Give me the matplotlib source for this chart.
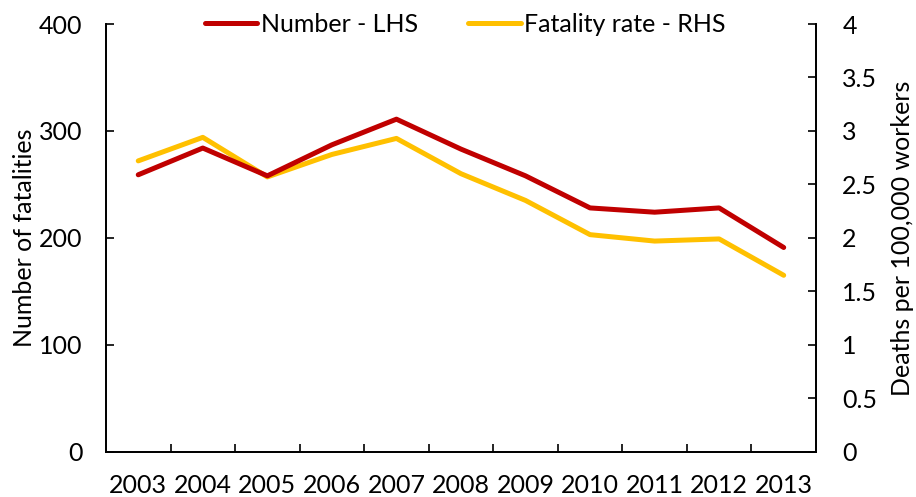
import matplotlib.pyplot as plt

# Data
years = ['2003', '2004', '2005', '2006', '2007', '2008', '2009', '2010', '2011', '2012', '2013']
fatalities = [259, 284, 258, 287, 311, 283, 258, 228, 224, 228, 191]
fatality_rate = [2.72, 2.94, 2.57, 2.78, 2.93, 2.60, 2.35, 2.03, 1.97, 1.99, 1.65]

plt.rcParams['font.family'] = ['Lato', 'DejaVu Sans']
plt.rcParams['font.size'] = 18

fig = plt.figure(figsize=(9.16, 4.97), dpi=100)
ax = fig.add_axes([0.1157, 0.0911, 0.7751, 0.8606])
ax2 = ax.twinx()

x = list(range(len(years)))
l1, = ax.plot(x, fatalities, color='#C00000', lw=3.6, solid_capstyle='round',
              label='Number - LHS')
l2, = ax2.plot(x, fatality_rate, color='#FFC000', lw=3.6, solid_capstyle='round',
               label='Fatality rate - RHS')
ax.set_zorder(ax2.get_zorder() + 1)
ax.patch.set_visible(False)

ax.set_xlim(-0.5, len(years) - 0.5)
ax.set_ylim(0, 400)
ax2.set_ylim(0, 4)
ax.set_yticks([0, 100, 200, 300, 400])
ax2.set_yticks([0, 0.5, 1, 1.5, 2, 2.5, 3, 3.5, 4])
ax2.set_yticklabels(['0', '0.5', '1', '1.5', '2', '2.5', '3', '3.5', '4'])

# x ticks between categories, labels centred on categories
ax.set_xticks([i + 0.5 for i in x[:-1]])
ax.set_xticks(x, minor=True)
ax.set_xticklabels([])
ax.set_xticklabels(years, minor=True)
ax.tick_params(axis='x', which='major', direction='in', length=6, width=1.2)
ax.tick_params(axis='x', which='minor', length=0, pad=16)
ax.tick_params(axis='y', direction='in', length=6, width=1.2, pad=17)
ax2.tick_params(axis='y', direction='in', length=6, width=1.2, pad=19)

for a in (ax, ax2):
    a.spines['top'].set_visible(False)
    for s in ('left', 'right', 'bottom'):
        a.spines[s].set_linewidth(1.3)

ax.set_ylabel('Number of fatalities')
ax2.set_ylabel('Deaths per 100,000 workers')
ax.yaxis.set_label_coords(-0.0986, 0.5)
ax2.yaxis.set_label_coords(1.106, 0.5)

ax.legend(handles=[l1, l2], loc='center', bbox_to_anchor=(0.506, 1.0), ncol=2,
          frameon=False, handlelength=2.1, handletextpad=0.15, columnspacing=2.0,
          borderaxespad=0)

plt.savefig('out.png', dpi=100)
